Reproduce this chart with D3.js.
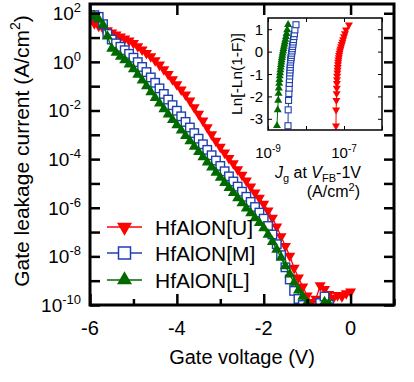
<!DOCTYPE html>
<html>
<head>
<meta charset="utf-8">
<script src="https://cdn.jsdelivr.net/npm/d3@7"></script>
<style>
  body { margin: 0; background: #fff; }
  text { font-family: "Liberation Sans", Arial, sans-serif; fill: #000; }
</style>
</head>
<body>
<svg id="chart" width="414" height="382"></svg>
<script>
// gate voltage grid (V)
const voltage = [-6.0,-5.9,-5.8,-5.7,-5.6,-5.5,-5.4,-5.3,-5.2,-5.1,
  -5.0,-4.9,-4.8,-4.7,-4.6,-4.5,-4.4,-4.3,-4.2,-4.1,
  -4.0,-3.9,-3.8,-3.7,-3.6,-3.5,-3.4,-3.3,-3.2,-3.1,
  -3.0,-2.9,-2.8,-2.7,-2.6,-2.5,-2.4,-2.3,-2.2,-2.1,
  -2.0,-1.9,-1.8,-1.7,-1.6,-1.5,-1.4,-1.3,-1.2,-1.1,
  -1.0,-0.9,-0.8,-0.7,-0.6,-0.5,-0.4,-0.3,-0.2,-0.1,0.0];

// log10 of gate leakage current (A/cm2), values below 1e-10 fall off the axis
const logJ_U = [1.70,1.58,1.48,1.39,1.29,1.20,1.12,1.04,0.95,0.87,
  0.77,0.64,0.50,0.36,0.22,0.06,-0.12,-0.31,-0.51,-0.72,
  -0.93,-1.14,-1.35,-1.60,-1.87,-2.14,-2.42,-2.70,-2.98,-3.25,
  -3.50,-3.74,-3.96,-4.18,-4.42,-4.65,-4.89,-5.13,-5.38,-5.60,
  -5.84,-6.12,-6.42,-6.78,-7.18,-7.58,-7.98,-8.48,-8.88,-9.25,
  -9.62,-9.88,-9.75,-9.20,-9.35,-9.55,-9.72,-9.60,-9.65,-9.52,-9.45];
const logJ_M = [1.93,1.92,1.85,1.55,1.15,0.92,0.76,0.62,0.48,0.33,
  0.17,-0.01,-0.21,-0.42,-0.64,-0.86,-1.09,-1.32,-1.55,-1.78,
  -2.01,-2.24,-2.47,-2.70,-2.93,-3.16,-3.39,-3.62,-3.84,-4.06,
  -4.28,-4.50,-4.71,-4.92,-5.13,-5.34,-5.55,-5.76,-5.97,-6.20,
  -6.45,-6.75,-7.10,-7.50,-7.95,-8.45,-8.95,-9.42,-9.75,-10.00,
  -10.40,-10.50,-10.40,-9.92,-9.65,-9.98,-10.50,-10.50,-10.50,-10.50,-10.50];
const logJ_L = [1.98,1.88,1.75,1.52,1.05,0.55,0.38,0.22,0.07,-0.10,
  -0.30,-0.52,-0.76,-1.00,-1.24,-1.48,-1.71,-1.94,-2.16,-2.38,
  -2.60,-2.82,-3.04,-3.26,-3.48,-3.70,-3.92,-4.13,-4.34,-4.55,
  -4.76,-4.97,-5.18,-5.39,-5.60,-5.81,-6.02,-6.22,-6.42,-6.62,
  -6.84,-7.10,-7.40,-7.72,-8.05,-8.40,-8.74,-9.08,-9.40,-9.65,
  -9.90,-10.30,-10.40,-10.30,-9.88,-9.95,-10.50,-10.50,-10.50,-10.50,-10.50];

const seriesNames = ["HfAlON[U]", "HfAlON[M]", "HfAlON[L]"];
const xTickLabels = [-6, -4, -2, 0];
const yTickExponents = [2, 0, -2, -4, -6, -8, -10];

// inset: Weibull plot of Jg at VFB-1V
const weibullY = [-3.31,-2.60,-2.18,-1.87,-1.63,-1.42,-1.25,-1.09,-0.95,
  -0.82,-0.70,-0.58,-0.47,-0.37,-0.27,-0.17,-0.07,0.03,0.13,
  0.23,0.33,0.43,0.54,0.67,0.80,0.97,1.20];
const jgU = [6.15e-8,6.20e-8,6.30e-8,6.40e-8,6.45e-8,6.50e-8,6.55e-8,6.62e-8,6.70e-8,
  6.78e-8,6.86e-8,6.95e-8,7.05e-8,7.15e-8,7.30e-8,7.45e-8,7.62e-8,7.85e-8,8.10e-8,
  8.40e-8,8.75e-8,9.10e-8,9.50e-8,1.00e-7,1.06e-7,1.13e-7,1.35e-7];
const jgM = [3.36e-9,3.40e-9,3.48e-9,3.54e-9,3.60e-9,3.64e-9,3.68e-9,3.72e-9,3.76e-9,
  3.80e-9,3.84e-9,3.88e-9,3.93e-9,3.98e-9,4.05e-9,4.12e-9,4.20e-9,4.28e-9,4.36e-9,
  4.44e-9,4.52e-9,4.60e-9,4.70e-9,4.82e-9,4.95e-9,5.10e-9,5.45e-9];
const jgL = [1.72e-9,1.80e-9,1.86e-9,1.90e-9,1.93e-9,1.97e-9,2.00e-9,2.04e-9,2.08e-9,
  2.12e-9,2.16e-9,2.20e-9,2.24e-9,2.28e-9,2.33e-9,2.38e-9,2.43e-9,2.50e-9,2.56e-9,
  2.63e-9,2.70e-9,2.78e-9,2.87e-9,2.97e-9,3.08e-9,3.20e-9,3.38e-9];
const insetYTicks = [1, 0, -1, -2, -3];
const insetXTickExponents = [-9, -7];

const colors = ["#ff0000", "#1f3fb0", "#006a00"];
const shapes = ["down", "square", "up"];

const svg = d3.select("#chart");

// ---------- main plot ----------
const plot = { left: 90, right: 394, top: 4, bottom: 305 };
const x = d3.scaleLinear().domain([-6, 1]).range([plot.left, plot.right]);
const y = d3.scaleLog().domain([1e-10, Math.pow(10, 2.38)]).range([plot.bottom, plot.top]);

svg.append("clipPath").attr("id", "clipMain")
  .append("rect")
  .attr("x", plot.left).attr("y", plot.top)
  .attr("width", plot.right - plot.left).attr("height", plot.bottom - plot.top);

function marker(sel, shape, size, color, sw) {
  if (shape === "square") {
    const h = size / 2;
    sel.append("rect")
      .attr("x", -h).attr("y", -h).attr("width", size).attr("height", size)
      .attr("fill", "#fff").attr("stroke", color).attr("stroke-width", sw);
  } else {
    const area = Math.sqrt(3) / 4 * size * size;
    sel.append("path")
      .attr("d", d3.symbol(d3.symbolTriangle, area)())
      .attr("transform", shape === "down" ? "rotate(180)" : null)
      .attr("fill", color);
  }
}

const mainSeries = [logJ_U, logJ_M, logJ_L].map((vals, i) => ({
  name: seriesNames[i],
  color: colors[i],
  shape: shapes[i],
  points: vals.map((v, k) => ({ v: voltage[k], j: Math.pow(10, v) }))
}));

const line = d3.line().x(d => x(d.v)).y(d => y(d.j));
const gData = svg.append("g").attr("clip-path", "url(#clipMain)");

mainSeries.forEach(s => {
  gData.append("path").datum(s.points)
    .attr("d", line).attr("fill", "none")
    .attr("stroke", s.color).attr("stroke-width", 1.3);
  gData.selectAll(null).data(s.points).enter().append("g")
    .attr("transform", d => `translate(${x(d.v)},${y(d.j)})`)
    .each(function () {
      marker(d3.select(this), s.shape, s.shape === "square" ? 8.5 : 11, s.color, 1.4);
    });
});

// ticks (inward)
function noLabel() { return ""; }
const axisStyle = g => {
  g.select(".domain").remove();
  g.selectAll(".tick line").attr("stroke", "#000").attr("stroke-width", 2.5);
  g.selectAll(".tick text").remove();
};
const decades = d3.range(-10, 3).map(e => Math.pow(10, e));

svg.append("g").attr("transform", `translate(0,${plot.bottom})`)
  .call(d3.axisBottom(x).tickValues([-5, -3, -1, 1]).tickSizeInner(-6).tickSizeOuter(0).tickFormat(noLabel))
  .call(axisStyle);
svg.append("g").attr("transform", `translate(0,${plot.bottom})`)
  .call(d3.axisBottom(x).tickValues(xTickLabels).tickSizeInner(-11).tickSizeOuter(0).tickFormat(noLabel))
  .call(axisStyle);
svg.append("g").attr("transform", `translate(0,${plot.top})`)
  .call(d3.axisTop(x).tickValues(xTickLabels).tickSizeInner(-11).tickSizeOuter(0).tickFormat(noLabel))
  .call(axisStyle);
svg.append("g").attr("transform", `translate(${plot.left},0)`)
  .call(d3.axisLeft(y).tickValues(decades).tickSizeInner(-10).tickSizeOuter(0).tickFormat(noLabel))
  .call(axisStyle);
svg.append("g").attr("transform", `translate(${plot.right},0)`)
  .call(d3.axisRight(y).tickValues(decades).tickSizeInner(-10).tickSizeOuter(0).tickFormat(noLabel))
  .call(axisStyle);

svg.append("rect")
  .attr("x", plot.left).attr("y", plot.top)
  .attr("width", plot.right - plot.left).attr("height", plot.bottom - plot.top)
  .attr("fill", "none").attr("stroke", "#000").attr("stroke-width", 3);

// tick labels
svg.selectAll(null).data(xTickLabels).enter().append("text")
  .attr("x", d => x(d)).attr("y", 335)
  .attr("text-anchor", "middle").attr("font-size", 20)
  .text(d => d === 0 ? "0" : "-" + Math.abs(d));

svg.selectAll(null).data(yTickExponents).enter().append("text")
  .attr("x", 81).attr("y", d => y(Math.pow(10, d)) + 7)
  .attr("text-anchor", "end").attr("font-size", 19)
  .each(function (d) {
    const t = d3.select(this);
    t.append("tspan").text("10");
    t.append("tspan").attr("dy", -8).attr("font-size", 13).text(d < 0 ? "-" + Math.abs(d) : d);
  });

// axis titles
svg.append("text")
  .attr("x", 242).attr("y", 364)
  .attr("text-anchor", "middle").attr("font-size", 20)
  .text("Gate voltage (V)");

const yTitle = svg.append("text")
  .attr("transform", "translate(29,151) rotate(-90)")
  .attr("text-anchor", "middle").attr("font-size", 21);
yTitle.append("tspan").text("Gate leakage current  (A/cm");
yTitle.append("tspan").attr("dy", -9).attr("font-size", 14).text("2");
yTitle.append("tspan").attr("dy", 9).text(")");

// legend
const legendRows = [227, 253, 280];
mainSeries.forEach((s, i) => {
  const g = svg.append("g").attr("transform", `translate(0,${legendRows[i]})`);
  g.append("line").attr("x1", 107).attr("x2", 142).attr("y1", 0).attr("y2", 0)
    .attr("stroke", s.color).attr("stroke-width", 1.5);
  const m = g.append("g").attr("transform", "translate(124.5,0)");
  marker(m, s.shape, s.shape === "square" ? 12 : 15, s.color, 1.5);
  g.append("text").attr("x", 155).attr("y", 7.5).attr("font-size", 21).text(s.name);
});

// ---------- inset ----------
const inset = { left: 268, right: 382, top: 18, bottom: 130 };
const xi = d3.scaleLog().domain([1e-9, 1e-6]).range([inset.left, inset.right]);
const yi = d3.scaleLinear().domain([-3.5, 1.5]).range([inset.bottom, inset.top]);

svg.append("rect")
  .attr("x", inset.left).attr("y", inset.top)
  .attr("width", inset.right - inset.left).attr("height", inset.bottom - inset.top)
  .attr("fill", "#fff");

svg.append("clipPath").attr("id", "clipInset")
  .append("rect")
  .attr("x", inset.left).attr("y", inset.top)
  .attr("width", inset.right - inset.left).attr("height", inset.bottom - inset.top);

const insetSeries = [jgU, jgM, jgL].map((vals, i) => ({
  color: colors[i],
  shape: shapes[i],
  points: vals.map((v, k) => ({ j: v, f: weibullY[k] }))
}));
const lineI = d3.line().x(d => xi(d.j)).y(d => yi(d.f));
const gInset = svg.append("g").attr("clip-path", "url(#clipInset)");
insetSeries.forEach(s => {
  gInset.append("path").datum(s.points)
    .attr("d", lineI).attr("fill", "none")
    .attr("stroke", s.color).attr("stroke-width", 1);
  gInset.selectAll(null).data(s.points).enter().append("g")
    .attr("transform", d => `translate(${xi(d.j)},${yi(d.f)})`)
    .each(function () {
      marker(d3.select(this), s.shape, s.shape === "square" ? 6 : 8, s.color, 1.1);
    });
});

const insetAxis = g => {
  g.select(".domain").remove();
  g.selectAll(".tick line").attr("stroke", "#000").attr("stroke-width", 1);
  g.selectAll(".tick text").remove();
};
const insetDecades = [1e-9, 1e-8, 1e-7, 1e-6];
svg.append("g").attr("transform", `translate(0,${inset.bottom})`)
  .call(d3.axisBottom(xi).tickValues(insetDecades).tickSizeInner(-4).tickSizeOuter(0).tickFormat(noLabel))
  .call(insetAxis);
svg.append("g").attr("transform", `translate(0,${inset.top})`)
  .call(d3.axisTop(xi).tickValues(insetDecades).tickSizeInner(-4).tickSizeOuter(0).tickFormat(noLabel))
  .call(insetAxis);
svg.append("g").attr("transform", `translate(${inset.left},0)`)
  .call(d3.axisLeft(yi).tickValues(insetYTicks).tickSizeInner(-4).tickSizeOuter(0).tickFormat(noLabel))
  .call(insetAxis);
svg.append("g").attr("transform", `translate(${inset.right},0)`)
  .call(d3.axisRight(yi).tickValues(insetYTicks).tickSizeInner(-4).tickSizeOuter(0).tickFormat(noLabel))
  .call(insetAxis);

svg.append("rect")
  .attr("x", inset.left).attr("y", inset.top)
  .attr("width", inset.right - inset.left).attr("height", inset.bottom - inset.top)
  .attr("fill", "none").attr("stroke", "#000").attr("stroke-width", 1.5);

svg.selectAll(null).data(insetYTicks).enter().append("text")
  .attr("x", 263).attr("y", d => yi(d) + 5.5)
  .attr("text-anchor", "end").attr("font-size", 15)
  .text(d => d < 0 ? "-" + Math.abs(d) : d);

svg.selectAll(null).data(insetXTickExponents).enter().append("text")
  .attr("x", d => xi(Math.pow(10, d))).attr("y", 158)
  .attr("text-anchor", "middle").attr("font-size", 15)
  .each(function (d) {
    const t = d3.select(this);
    t.append("tspan").text("10");
    t.append("tspan").attr("dy", -6).attr("font-size", 10).text("-" + Math.abs(d));
  });

svg.append("text")
  .attr("transform", "translate(242,74) rotate(-90)")
  .attr("text-anchor", "middle").attr("font-size", 15.5)
  .text("Ln[-Ln(1-F)]");

const jgTitle = svg.append("text")
  .attr("x", 318).attr("y", 178)
  .attr("text-anchor", "middle").attr("font-size", 16);
jgTitle.append("tspan").attr("font-style", "italic").text("J");
jgTitle.append("tspan").attr("dy", 4).attr("font-size", 11).text("g");
jgTitle.append("tspan").attr("dy", -4).text(" at ");
jgTitle.append("tspan").attr("font-style", "italic").text("V");
jgTitle.append("tspan").attr("dy", 4).attr("font-size", 11).text("FB");
jgTitle.append("tspan").attr("dy", -4).text("-1V");

const unit = svg.append("text")
  .attr("x", 360).attr("y", 197)
  .attr("text-anchor", "end").attr("font-size", 16);
unit.append("tspan").text("(A/cm");
unit.append("tspan").attr("dy", -6).attr("font-size", 11).text("2");
unit.append("tspan").attr("dy", 6).text(")");
</script>
</body>
</html>
